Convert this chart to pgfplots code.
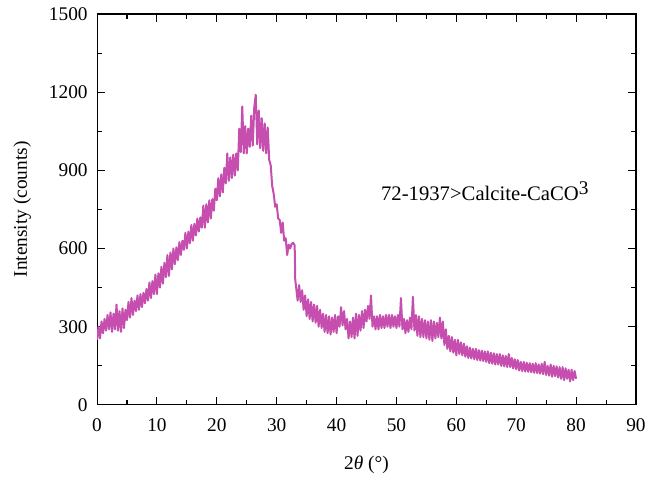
\documentclass[border=0pt]{standalone}
\usepackage{fontspec}
\setmainfont{Liberation Serif}
\usepackage{pgfplots}
\pgfplotsset{compat=1.18}
\definecolor{xrd}{RGB}{197,78,175}
\begin{document}
\fontsize{14.5}{17}\selectfont
\begin{tikzpicture}
\path (-72.75pt,-55.5pt) rectangle (416.75pt,303.5pt);
\begin{axis}[
  scale only axis, width=404pt, height=293pt,
  xmin=0, xmax=90, ymin=0, ymax=1500,
  xtick={0,10,...,90}, ytick={0,300,...,1500},
  minor x tick num=1, minor y tick num=1,
  tick align=inside, major tick length=6pt, minor tick length=3.5pt,
  axis line style={line width=0.8pt}, tick style={line width=0.8pt, black},
  /pgf/number format/assume math mode=true,
  /pgf/number format/1000 sep={},
  xticklabel style={yshift=-5pt},
  yticklabel style={xshift=-2pt},
  xlabel={2{\itshape θ} (°)}, ylabel={Intensity (counts)},
  every axis x label/.style={at={(axis description cs:0.5,-0.1536)},anchor=center},
  every axis y label/.style={at={(axis description cs:-0.1386,0.5)},rotate=90,anchor=center},
  clip=true,
]
\addplot[xrd, line width=1.5pt, line join=round] table {
0.00 250
0.25 300
0.50 255
0.75 320
1.00 275
1.25 330
1.50 285
1.75 345
2.00 290
2.25 355
2.50 280
2.75 350
3.00 290
3.25 385
3.50 285
3.75 360
4.00 280
4.25 370
4.50 295
4.75 365
5.00 325
5.25 395
5.50 335
5.75 410
6.00 345
6.25 400
6.50 360
6.75 420
7.00 365
7.25 425
7.50 375
7.75 430
8.00 390
8.25 445
8.50 400
8.75 470
9.00 410
9.25 475
9.50 425
9.75 500
10.00 425
10.25 505
10.50 450
10.75 530
11.00 465
11.25 545
11.50 490
11.75 575
12.00 495
12.25 585
12.50 520
12.75 600
13.00 540
13.25 605
13.50 555
13.75 625
14.00 575
14.25 630
14.50 595
14.75 660
15.00 600
15.25 665
15.50 620
15.75 690
16.00 630
16.25 695
16.50 650
16.75 715
17.00 665
17.25 720
17.50 680
17.75 765
18.00 680
18.25 770
18.50 700
18.75 785
19.00 715
19.25 790
19.50 745
19.75 830
20.00 785
20.25 870
20.50 800
20.75 885
21.00 815
21.25 910
21.50 850
21.75 965
22.00 860
22.25 950
22.50 870
22.75 960
23.00 880
23.25 965
23.50 900
23.75 1060
24.00 970
24.25 1145
24.50 965
24.75 1070
25.00 965
25.25 1060
25.50 990
25.75 1110
26.00 995
26.25 1140
26.50 1190
26.75 1000
27.00 1130
27.25 985
27.50 1100
27.75 975
28.00 1080
28.25 965
28.50 1065
28.75 940
29.00 920
29.25 840
29.50 810
29.75 760
30.00 770
30.25 715
30.50 710
30.75 660
31.00 700
31.25 630
31.50 640
31.75 575
32.00 615
32.25 600
32.50 618
32.75 622
33.00 612
33.10 480
33.25 450
33.50 400
33.75 460
34.00 395
34.25 440
34.50 365
34.75 420
35.00 340
35.25 405
35.50 330
35.75 395
36.00 320
36.25 385
36.50 315
36.75 380
37.00 300
37.25 365
37.50 295
37.75 350
38.00 280
38.25 345
38.50 275
38.75 340
39.00 270
39.25 335
39.50 280
39.75 345
40.00 275
40.25 340
40.50 300
40.75 375
41.00 305
41.25 360
41.50 290
41.75 330
42.00 255
42.25 320
42.50 260
42.75 335
43.00 255
43.25 350
43.50 265
43.75 345
44.00 285
44.25 360
44.50 295
44.75 365
45.00 320
45.25 380
45.50 330
45.75 420
46.00 300
46.25 340
46.50 290
46.75 340
47.00 290
47.25 345
47.50 295
47.75 340
48.00 295
48.25 345
48.50 300
48.75 345
49.00 295
49.25 345
49.50 300
49.75 340
50.00 295
50.25 345
50.50 300
50.75 410
51.00 290
51.25 330
51.50 275
51.75 325
52.00 280
52.25 335
52.50 290
52.75 415
53.00 285
53.25 345
53.50 265
53.75 340
54.00 260
54.25 330
54.50 260
54.75 325
55.00 255
55.25 320
55.50 250
55.75 325
56.00 245
56.25 320
56.50 255
56.75 315
57.00 260
57.25 335
57.50 255
57.75 320
58.00 230
58.25 290
58.50 215
58.75 265
59.00 205
59.25 260
59.50 200
59.75 250
60.00 190
60.25 250
60.50 195
60.75 240
61.00 190
61.25 235
61.50 185
61.75 225
62.00 180
62.25 220
62.50 178
62.75 215
63.00 175
63.25 215
63.50 172
63.75 210
64.00 170
64.25 208
64.50 168
64.75 205
65.00 165
65.25 205
65.50 160
65.75 200
66.00 158
66.25 198
66.50 155
66.75 195
67.00 155
67.25 195
67.50 150
67.75 190
68.00 148
68.25 188
68.50 145
68.75 195
69.00 145
69.25 180
69.50 140
69.75 175
70.00 137
70.25 172
70.50 132
70.75 165
71.00 130
71.25 165
71.50 128
71.75 162
72.00 127
72.25 160
72.50 125
72.75 158
73.00 123
73.25 160
73.50 122
73.75 155
74.00 120
74.25 158
74.50 118
74.75 165
75.00 115
75.25 150
75.50 112
75.75 155
76.00 108
76.25 150
76.50 110
76.75 148
77.00 105
77.25 145
77.50 100
77.75 145
78.00 95
78.25 140
78.50 100
78.75 135
79.00 90
79.25 135
79.50 95
79.75 130
80.00 100
};
\node[anchor=base west, inner sep=0pt, font=\fontsize{15.5}{18}\selectfont] at (axis cs:47.4,786) {72-1937>Calcite-CaCO\raisebox{0.55ex}{\fontsize{14.5}{14.5}\selectfont 3}};
\end{axis}
\end{tikzpicture}
\end{document}
